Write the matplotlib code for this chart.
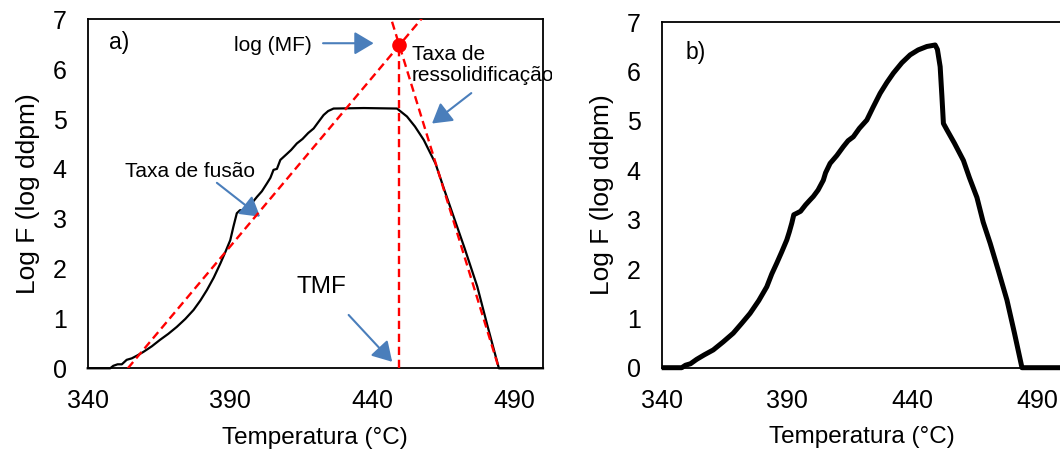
import matplotlib
matplotlib.use("Agg")
import matplotlib.pyplot as plt
from matplotlib.transforms import Bbox, TransformedBbox
import numpy as np

plt.rcParams['font.family'] = ['Liberation Sans', 'DejaVu Sans']

# ---------------- data ----------------
# panel a) curve
a_temp = [340, 347.9, 349.0, 350.5, 352.0, 353.7, 355.5, 357.5, 359.6, 362.5, 365.4,
          368.3, 371.3, 374.3, 377.2, 379.6, 381.9, 384.3, 386.6, 388.5, 390.1,
          391.2, 392.4, 393.5, 395.3, 397.5, 399.5, 401.2, 403.0, 404.2, 405.3,
          406.5, 407.7, 410.0, 411.5, 413.5, 415.5, 417.5, 419.4, 421.2, 422.9,
          424.5, 426.4, 437.0, 448.7, 452.2, 455.0, 458.1, 462.2, 465.5, 468.6,
          472.5, 476.9, 480.5, 484.5, 500]
a_logf = [0, 0, 0.05, 0.08, 0.08, 0.17, 0.20, 0.26, 0.33, 0.44, 0.57,
          0.69, 0.83, 0.99, 1.17, 1.36, 1.57, 1.82, 2.10, 2.35, 2.57,
          2.84, 3.11, 3.17, 3.17, 3.30, 3.44, 3.55, 3.71, 3.82, 3.98,
          4.00, 4.18, 4.30, 4.38, 4.51, 4.60, 4.72, 4.81, 4.95, 5.08,
          5.16, 5.21, 5.22, 5.21, 5.05, 4.85, 4.58, 4.11, 3.55, 3.04,
          2.40, 1.64, 0.85, 0, 0]

# panel b) curve
b_temp = [340, 348.0, 349.5, 351.5, 354.0, 357.0, 360.6, 364.5, 368.6, 372.0, 375.3,
          378.8, 382.0, 384.0, 386.0, 388.0, 390.0, 391.0, 392.0, 392.8, 394.0,
          395.5, 397.5, 399.3, 400.6, 402.5, 404.6, 405.5, 407.3, 410.0, 412.6,
          414.5, 416.6, 419.0, 422.0, 424.5, 427.3, 430.0, 432.6, 436.0, 439.3,
          442.5, 446.0, 449.3, 450.2, 451.3, 452.0, 452.6, 454.0, 457.0, 460.6,
          463.0, 466.0, 468.5, 471.3, 474.5, 478.0, 481.0, 484.0, 500]
b_logf = [0, 0, 0.05, 0.08, 0.17, 0.26, 0.36, 0.52, 0.70, 0.90, 1.10,
          1.36, 1.64, 1.90, 2.12, 2.35, 2.59, 2.75, 2.93, 3.10, 3.13,
          3.17, 3.30, 3.40, 3.47, 3.60, 3.80, 3.95, 4.14, 4.30, 4.48,
          4.60, 4.68, 4.85, 5.02, 5.28, 5.56, 5.78, 5.97, 6.18, 6.34,
          6.44, 6.51, 6.54, 6.45, 6.10, 5.50, 4.95, 4.82, 4.55, 4.20,
          3.85, 3.45, 2.95, 2.52, 1.98, 1.37, 0.70, 0, 0]

# construction lines (panel a)
mf_temp = 449.5          # TMF
mf_logf = 6.48           # log(MF)
melt_start = 354.1       # melting-rate line crosses log F = 0
resolid_end = 484.5      # resolidification line crosses log F = 0

x_ticks = [340, 390, 440, 490]
y_ticks = [0, 1, 2, 3, 4, 5, 6, 7]

# ---------------- styling ----------------
W, H = 1060, 453
fig = plt.figure(figsize=(W / 100, H / 100), dpi=100)
blue = '#4A7EBB'
tick_fs = 18
xlabel_fs = 17.5
ylabel_fs = 19
ann_fs = 15

ax1 = fig.add_axes([87.7 / W, 1 - 368.3 / H, (543 - 87.7) / W, (368.3 - 19.3) / H])
ax2 = fig.add_axes([661.7 / W, 1 - 367.7 / H, (1062 - 661.7) / W, (367.7 - 22.3) / H])

for ax in (ax1, ax2):
    ax.set_xlim(340, 500)
    ax.set_ylim(0, 7)
    ax.set_xticks(x_ticks)
    ax.set_yticks(y_ticks)
    ax.tick_params(length=0, labelsize=tick_fs, pad=15)
    for s in ax.spines.values():
        s.set_linewidth(1.3)
        s.set_color('black')
    ax.set_xlabel('Temperatura (°C)', fontsize=xlabel_fs, labelpad=10)
    ax.set_ylabel('Log F (log ddpm)', fontsize=ylabel_fs, labelpad=9)

# panel a
ax1.plot(a_temp, a_logf, color='black', lw=1.6, zorder=3, clip_on=False)

dash = (3.5, 2.0)
slope_m = mf_logf / (mf_temp - melt_start)
tm = np.array([melt_start, melt_start + 7.2 / slope_m])
ax1.plot(tm, slope_m * (tm - melt_start), color='red', lw=1.7, dashes=dash, zorder=4)
slope_r = mf_logf / (mf_temp - resolid_end)
tr = np.array([mf_temp + (7.2 - mf_logf) / slope_r, resolid_end])
ax1.plot(tr, mf_logf + slope_r * (tr - mf_temp), color='red', lw=1.7, dashes=dash, zorder=4)
ax1.plot([mf_temp, mf_temp], [0, mf_logf], color='red', lw=1.7, dashes=dash, zorder=4)
ax1.plot([mf_temp], [mf_logf], 'o', color='red', ms=9.5, zorder=5, clip_on=False)

ax1.text(347.5, 6.54, 'a)', fontsize=16.5, ha='left', va='center')
ax1.text(405, 6.48, 'log (MF)', fontsize=ann_fs, ha='center', va='center')
t = ax1.text(453.9, 6.08, 'Taxa de\nressolidificação', fontsize=ann_fs, ha='left',
             va='center', linespacing=1.1)
t.set_clip_box(TransformedBbox(Bbox([[0, 0], [552 / W, 1]]), fig.transFigure))
t.set_clip_on(True)
ax1.text(376, 3.94, 'Taxa de fusão', fontsize=ann_fs, ha='center', va='center')
ax1.text(422, 1.64, 'TMF', fontsize=xlabel_fs, ha='center', va='center')

arrows = [((422.7, 6.52), (440.5, 6.52)),
          ((474.8, 5.52), (461.0, 4.91)),
          ((385.4, 3.72), (400.6, 3.04)),
          ((431.7, 1.07), (447.0, 0.13))]
for start, end in arrows:
    ax1.annotate('', xy=end, xytext=start,
                 arrowprops=dict(arrowstyle='-|>,head_length=0.42,head_width=0.25',
                                 mutation_scale=28, lw=1.5,
                                 color=blue, shrinkA=0, shrinkB=0))

# panel b
ax2.plot(b_temp, b_logf, color='black', lw=3.6, zorder=3, solid_joinstyle='round',
         solid_capstyle='butt', clip_on=False)
ax2.text(349.7, 6.38, 'b)', fontsize=16.5, ha='left', va='center')

fig.savefig('out.png', dpi=100)
